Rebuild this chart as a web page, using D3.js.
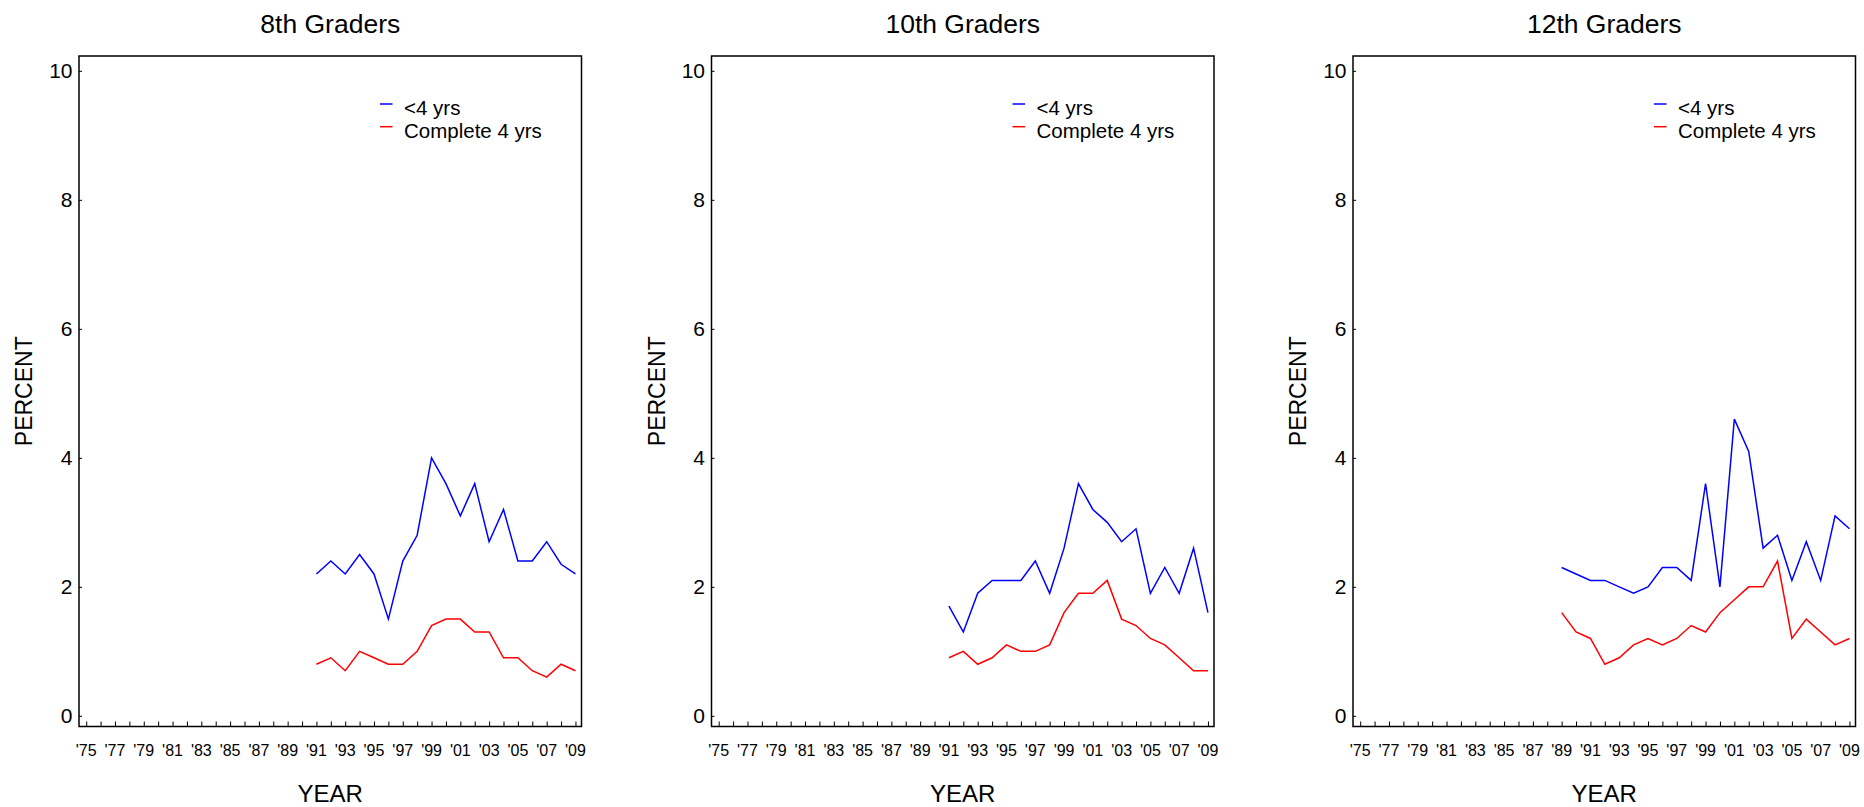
<!DOCTYPE html>
<html>
<head>
<meta charset="utf-8">
<script src="https://cdn.jsdelivr.net/npm/d3@7"></script>
<style>
  html, body { margin: 0; padding: 0; background: #fff; }
  svg { display: block; font-family: "Liberation Sans", Arial, sans-serif; }
</style>
</head>
<body>
<svg id="chart" width="1864" height="807"></svg>
<script>
// ---- data ----
const panelTitles = ["8th Graders", "10th Graders", "12th Graders"];
const seriesNames = ["<4 yrs", "Complete 4 yrs"];
const seriesColors = ["#0000ff", "#ff0000"];
const xTickYears = d3.range(1975, 2010, 2);
const xTickLabels = ["'75","'77","'79","'81","'83","'85","'87","'89","'91","'93","'95","'97","'99","'01","'03","'05","'07","'09"];
const yTicks = [0, 2, 4, 6, 8, 10];

const years8 = d3.range(1991, 2010);
const lt4_8  = [2.2, 2.4, 2.2, 2.5, 2.2, 1.5, 2.4, 2.8, 4.0, 3.6, 3.1, 3.6, 2.7, 3.2, 2.4, 2.4, 2.7, 2.35, 2.2];
const full_8 = [0.8, 0.9, 0.7, 1.0, 0.9, 0.8, 0.8, 1.0, 1.4, 1.5, 1.5, 1.3, 1.3, 0.9, 0.9, 0.7, 0.6, 0.8, 0.7];

const years10 = d3.range(1991, 2010);
const lt4_10  = [1.7, 1.3, 1.9, 2.1, 2.1, 2.1, 2.4, 1.9, 2.6, 3.6, 3.2, 3.0, 2.7, 2.9, 1.9, 2.3, 1.9, 2.6, 1.6];
const full_10 = [0.9, 1.0, 0.8, 0.9, 1.1, 1.0, 1.0, 1.1, 1.6, 1.9, 1.9, 2.1, 1.5, 1.4, 1.2, 1.1, 0.9, 0.7, 0.7];

const years12 = d3.range(1989, 2010);
const lt4_12  = [2.3, 2.2, 2.1, 2.1, 2.0, 1.9, 2.0, 2.3, 2.3, 2.1, 3.6, 2.0, 4.6, 4.1, 2.6, 2.8, 2.1, 2.7, 2.1, 3.1, 2.9];
const full_12 = [1.6, 1.3, 1.2, 0.8, 0.9, 1.1, 1.2, 1.1, 1.2, 1.4, 1.3, 1.6, 1.8, 2.0, 2.0, 2.4, 1.2, 1.5, 1.3, 1.1, 1.2];

const panels = [
  { title: panelTitles[0], years: years8,  series: [lt4_8,  full_8]  },
  { title: panelTitles[1], years: years10, series: [lt4_10, full_10] },
  { title: panelTitles[2], years: years12, series: [lt4_12, full_12] }
];

// ---- layout ----
const boxLefts = [79, 711.5, 1353];
const boxW = 502.5;
const boxTop = 56, boxBottom = 726.5;

const svg = d3.select("#chart");

panels.forEach((p, i) => {
  const L = boxLefts[i], R = L + boxW;
  const x = d3.scaleLinear().domain([1974.5, 2009.42]).range([L, R]);
  const y = d3.scaleLinear().domain([-0.165, 10.23]).range([boxBottom, boxTop]);
  const g = svg.append("g");

  // title
  g.append("text")
    .attr("x", (L + R) / 2).attr("y", 33)
    .attr("text-anchor", "middle")
    .attr("font-size", 26.5).attr("fill", "#000")
    .text(p.title);

  // y axis ticks (inward) and labels
  const yAxis = d3.axisLeft(y).tickValues(yTicks).tickSizeInner(-3).tickSizeOuter(0).tickPadding(6.5);
  const ya = g.append("g").attr("transform", `translate(${L},0)`).call(yAxis);
  ya.select(".domain").remove();
  ya.selectAll(".tick line").attr("stroke", "#000").attr("stroke-width", 1);
  ya.selectAll(".tick text").attr("font-size", 21).attr("fill", "#000")
    .attr("font-family", "Liberation Sans, Arial, sans-serif");

  // x axis: a tick every year, labels every 2 years
  const xAxis = d3.axisBottom(x).tickValues(d3.range(1975, 2010)).tickSizeInner(-5).tickSizeOuter(0).tickFormat(() => "");
  const xa = g.append("g").attr("transform", `translate(0,${boxBottom})`).call(xAxis);
  xa.select(".domain").remove();
  xa.selectAll(".tick line").attr("stroke", "#000").attr("stroke-width", 1);
  xTickYears.forEach((yr, k) => {
    g.append("text")
      .attr("x", x(yr)).attr("y", 756)
      .attr("text-anchor", "middle")
      .attr("font-size", 16).attr("fill", "#000")
      .text(xTickLabels[k]);
  });

  // frame
  g.append("rect")
    .attr("x", L).attr("y", boxTop)
    .attr("width", R - L).attr("height", boxBottom - boxTop)
    .attr("fill", "none").attr("stroke", "#000").attr("stroke-width", 1.5);

  // axis titles
  g.append("text")
    .attr("x", (L + R) / 2).attr("y", 802)
    .attr("text-anchor", "middle")
    .attr("font-size", 24).attr("fill", "#000")
    .text("YEAR");
  g.append("text")
    .attr("transform", `translate(${L - 47},${(boxTop + boxBottom) / 2}) rotate(-90)`)
    .attr("text-anchor", "middle")
    .attr("font-size", 23).attr("fill", "#000")
    .text("PERCENT");

  // lines
  const line = d3.line().x(d => x(d[0])).y(d => y(d[1]));
  p.series.forEach((vals, s) => {
    const pts = p.years.map((yr, k) => [yr, vals[k]]);
    g.append("path")
      .attr("d", line(pts))
      .attr("fill", "none")
      .attr("stroke", seriesColors[s])
      .attr("stroke-width", 1.5)
      .attr("stroke-linejoin", "miter");
  });

  // legend
  seriesNames.forEach((name, s) => {
    const ly = 104 + s * 22.7;
    g.append("line")
      .attr("x1", L + 301).attr("x2", L + 313.5)
      .attr("y1", ly).attr("y2", ly)
      .attr("stroke", seriesColors[s]).attr("stroke-width", 1.5);
    g.append("text")
      .attr("x", L + 325).attr("y", ly + 11)
      .attr("font-size", 20.5).attr("fill", "#000")
      .text(name);
  });
});
</script>
</body>
</html>
